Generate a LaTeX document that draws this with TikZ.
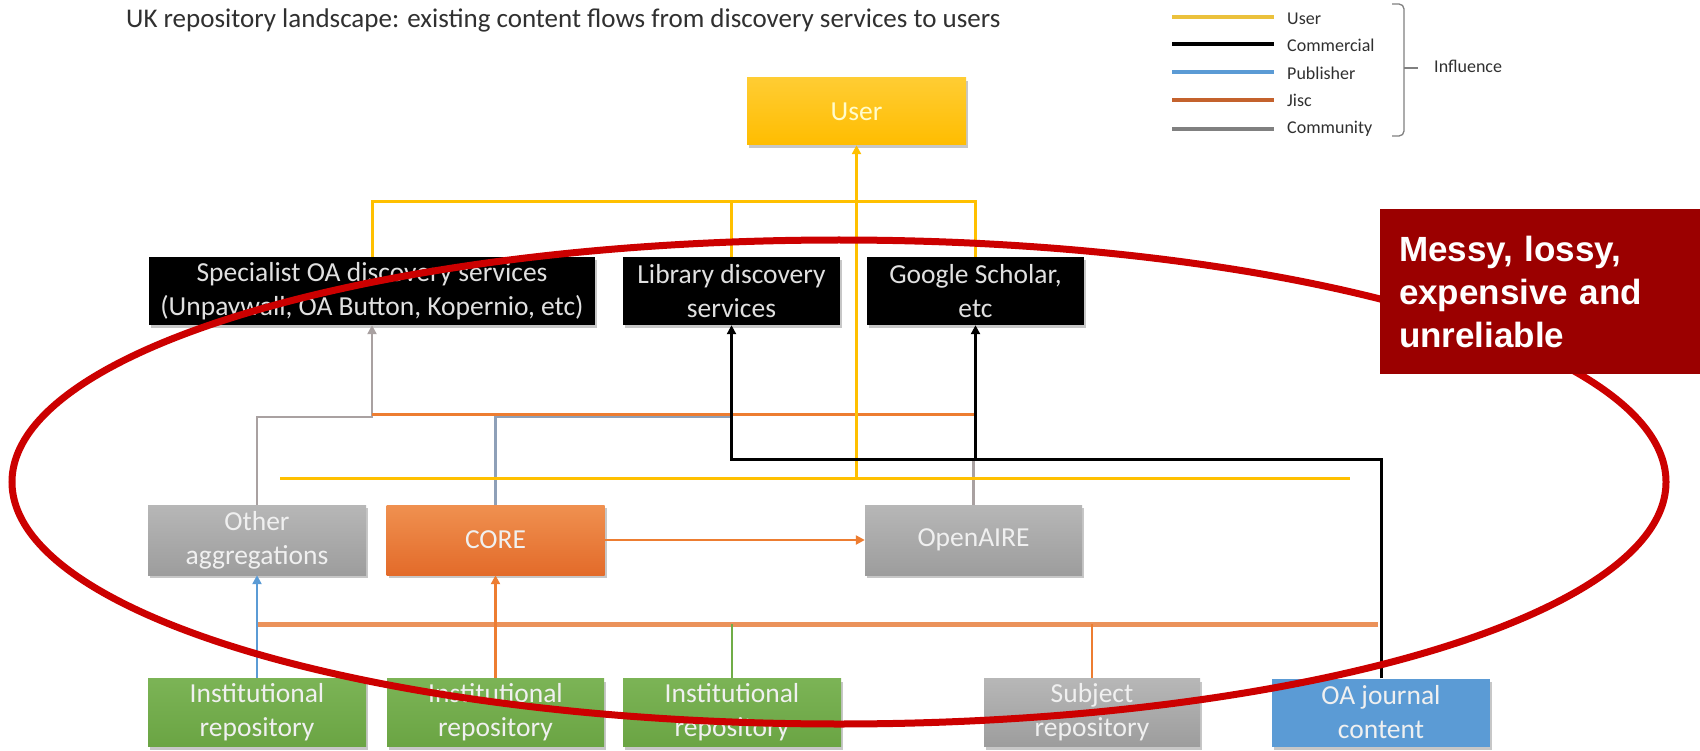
\documentclass[tikz,border=0pt]{standalone}
\usepackage{fontspec}
\setmainfont{Carlito}
\newfontfamily\arialb{Liberation Sans}
\usetikzlibrary{arrows.meta,shadows,calc}
\definecolor{userc}{HTML}{FFC000}
\definecolor{userlg}{HTML}{EBC13C}
\definecolor{pubc}{HTML}{5B9BD5}
\definecolor{jiscc}{HTML}{ED7D31}
\definecolor{jisclg}{HTML}{C4622D}
\definecolor{jiscbus}{HTML}{EB925A}
\definecolor{commc}{HTML}{A9A1A1}
\definecolor{commlg}{HTML}{808080}
\definecolor{slatec}{HTML}{8EA0B8}
\definecolor{greenc}{HTML}{70AD47}
\definecolor{grayc}{HTML}{A5A5A5}
\definecolor{ellc}{HTML}{CC0000}
\definecolor{messyc}{HTML}{9B0000}
\definecolor{titlec}{HTML}{303030}
\begin{document}
\begin{tikzpicture}[x=1pt,y=-1pt,
  box/.style={rectangle, minimum height=68pt, minimum width=218pt, inner sep=2pt, align=center,
    font=\fontsize{27.5}{34}\selectfont, text=white!94!black,
    drop shadow={shadow xshift=2pt,shadow yshift=-3pt,opacity=0.22,fill=black}},
  blackbox/.style={box, fill=black, text=white!88!black},
  graybox/.style={box, top color=grayc!80!white, bottom color=grayc!95!black},
  greenbox/.style={box, top color=greenc!92!white, bottom color=greenc!95!black},
  ul/.style={draw=userc, line width=3pt},
  cl/.style={draw=black, line width=3pt},
  pl/.style={draw=pubc, line width=2.5pt},
  jl/.style={draw=jiscc, line width=3pt},
  gl/.style={draw=commc, line width=2.5pt},
  sl/.style={draw=slatec, line width=2.5pt},
  grl/.style={draw=greenc, line width=2pt},
  tip/.style={-{Triangle[length=9pt,width=9pt]}},
  legl/.style={line width=4pt},
  legt/.style={anchor=west, font=\fontsize{18}{20}\selectfont, text=titlec, inner sep=0pt}
]
\fill[white] (0,0) rectangle (1700,751);
\useasboundingbox (0,0) rectangle (1700,751);

% title
\node[anchor=west, font=\fontsize{27}{30}\selectfont, text=titlec, inner sep=0pt] (title) at (126,20)
  {UK repository landscape: existing content flows from discovery services to users};

% legend
\coordinate (lg1) at (1172,17);  \coordinate (lr1) at (1274,17);
\coordinate (lg2) at (1172,44);  \coordinate (lr2) at (1274,44);
\coordinate (lg3) at (1172,72);  \coordinate (lr3) at (1274,72);
\coordinate (lg4) at (1172,100); \coordinate (lr4) at (1274,100);
\coordinate (lg5) at (1172,129); \coordinate (lr5) at (1274,129);
\draw[legl, userlg] (lg1) -- (lr1);
\draw[legl, black] (lg2) -- (lr2);
\draw[legl, pubc] (lg3) -- (lr3);
\draw[legl, jisclg] (lg4) -- (lr4);
\draw[legl, commlg] (lg5) -- (lr5);
\node[legt] (ltu) at (1287,19) {User};
\node[legt] (ltc) at (1287,45) {Commercial};
\node[legt] (ltp) at (1287,73) {Publisher};
\node[legt] (ltj) at (1287,100) {Jisc};
\node[legt] (ltm) at (1287,129) {Community};
\coordinate (brt) at (1392,4);
\coordinate (brb) at (1392,136);
\coordinate (brm) at (1404,68);
\coordinate (brtip) at (1418,68);
\draw[commlg, line width=1.3pt, rounded corners=5pt] (brt) -- (brt -| brm) -- (brb -| brm) -- (brb);
\draw[commlg, line width=1.3pt] (brm) -- (brtip);
\node[legt] (linf) at (1434,66) {Influence};

% nodes
\node[box, minimum width=219pt, minimum height=67pt, top color=userc!80!white, bottom color=userc!95!orange,
      text=yellow!20!white] (user) at (856.5,111.5) {User};
\node[blackbox, minimum width=446pt] (spec) at (372,291)
  {Specialist OA discovery services\\(Unpaywall, OA Button, Kopernio, etc)};
\node[blackbox, minimum width=217pt] (lib) at (731.5,291) {Library discovery\\services};
\node[blackbox, minimum width=217pt] (gs) at (975.5,291) {Google Scholar,\\etc};

\node[graybox, minimum height=70pt] (other) at (257,540) {Other\\aggregations};
\node[box, minimum height=70pt, top color=jiscc!85!white, bottom color=jiscc!90!red!95!black] (core) at (495.5,540) {CORE};
\node[graybox, minimum height=70pt, minimum width=217pt] (oaire) at (973.5,540) {OpenAIRE};

\node[greenbox] (inst1) at (257,712.5) {Institutional\\repository};
\node[greenbox, minimum width=217pt] (inst2) at (495.5,712.5) {Institutional\\repository};
\node[greenbox] (inst3) at (732,712.5) {Institutional\\repository};
\node[graybox, minimum width=216pt] (subj) at (1092,712.5) {Subject\\repository};
\node[box, fill=pubc] (oaj) at (1381,712.5) {OA journal\\content};

% helper levels
\coordinate (ytop) at (0,202);
\coordinate (ymid) at (0,414);
\coordinate (ygray) at (0,417);
\coordinate (yblk) at (0,459);
\coordinate (ylong) at (0,478);
\coordinate (ybus) at (0,624);
\coordinate (ylL) at (280,478);
\coordinate (ylR) at (1350,478);
\coordinate (slEnd) at (732,417);

% community
\draw[gl, tip] (other.north) -- (other.north |- ygray) -| (spec.south);
\draw[gl] (oaire.north) -- (oaire.north |- yblk);
% slate line from CORE
\draw[sl] (core.north) -- (core.north |- ygray) -- (slEnd);
% jisc mid line
\draw[jl] (spec.south |- ymid) -- (gs.south |- ymid);
% user
\draw[ul] (spec.north) -- (spec.north |- ytop) -| (gs.north);
\draw[ul] (lib.north) -- (lib.north |- ytop);
\draw[ul] (ylL) -- (ylR);
\draw[ul, tip] (user.south |- ylong) -- (user.south);
% bottom bus
\draw[draw=jiscbus, line width=5pt] (inst1.north |- ybus) -- ($(oaj.north |- ybus)+(-3,0)$);
\draw[pl, tip] (inst1.north) -- (other.south);
\draw[jl, tip] (inst2.north) -- (core.south);
\draw[grl] (inst3.north) -- (inst3.north |- ybus);
\draw[jl, line width=2.5pt] (subj.north) -- (subj.north |- ybus);
\draw[jl, line width=2.5pt, tip] (core.east) -- (oaire.west);
% commercial
\draw[cl, tip] (oaj.north) -- (oaj.north |- yblk) -| (lib.south);
\draw[cl, tip] (gs.south |- yblk) -- (gs.south);

% red ellipse
\coordinate (ec) at (839,482);
\draw[ellc, line width=7pt] (ec) ellipse [x radius=827, y radius=242];

% messy box
\node[rectangle, fill=messyc, minimum width=320pt, minimum height=165pt, inner sep=0pt,
      text width=282pt, align=left, text=white,
      font=\arialb\bfseries\fontsize{35}{43}\selectfont] (messy) at (1540,291.5)
  {Messy, lossy,\\expensive and\\unreliable};
\end{tikzpicture}
\end{document}
